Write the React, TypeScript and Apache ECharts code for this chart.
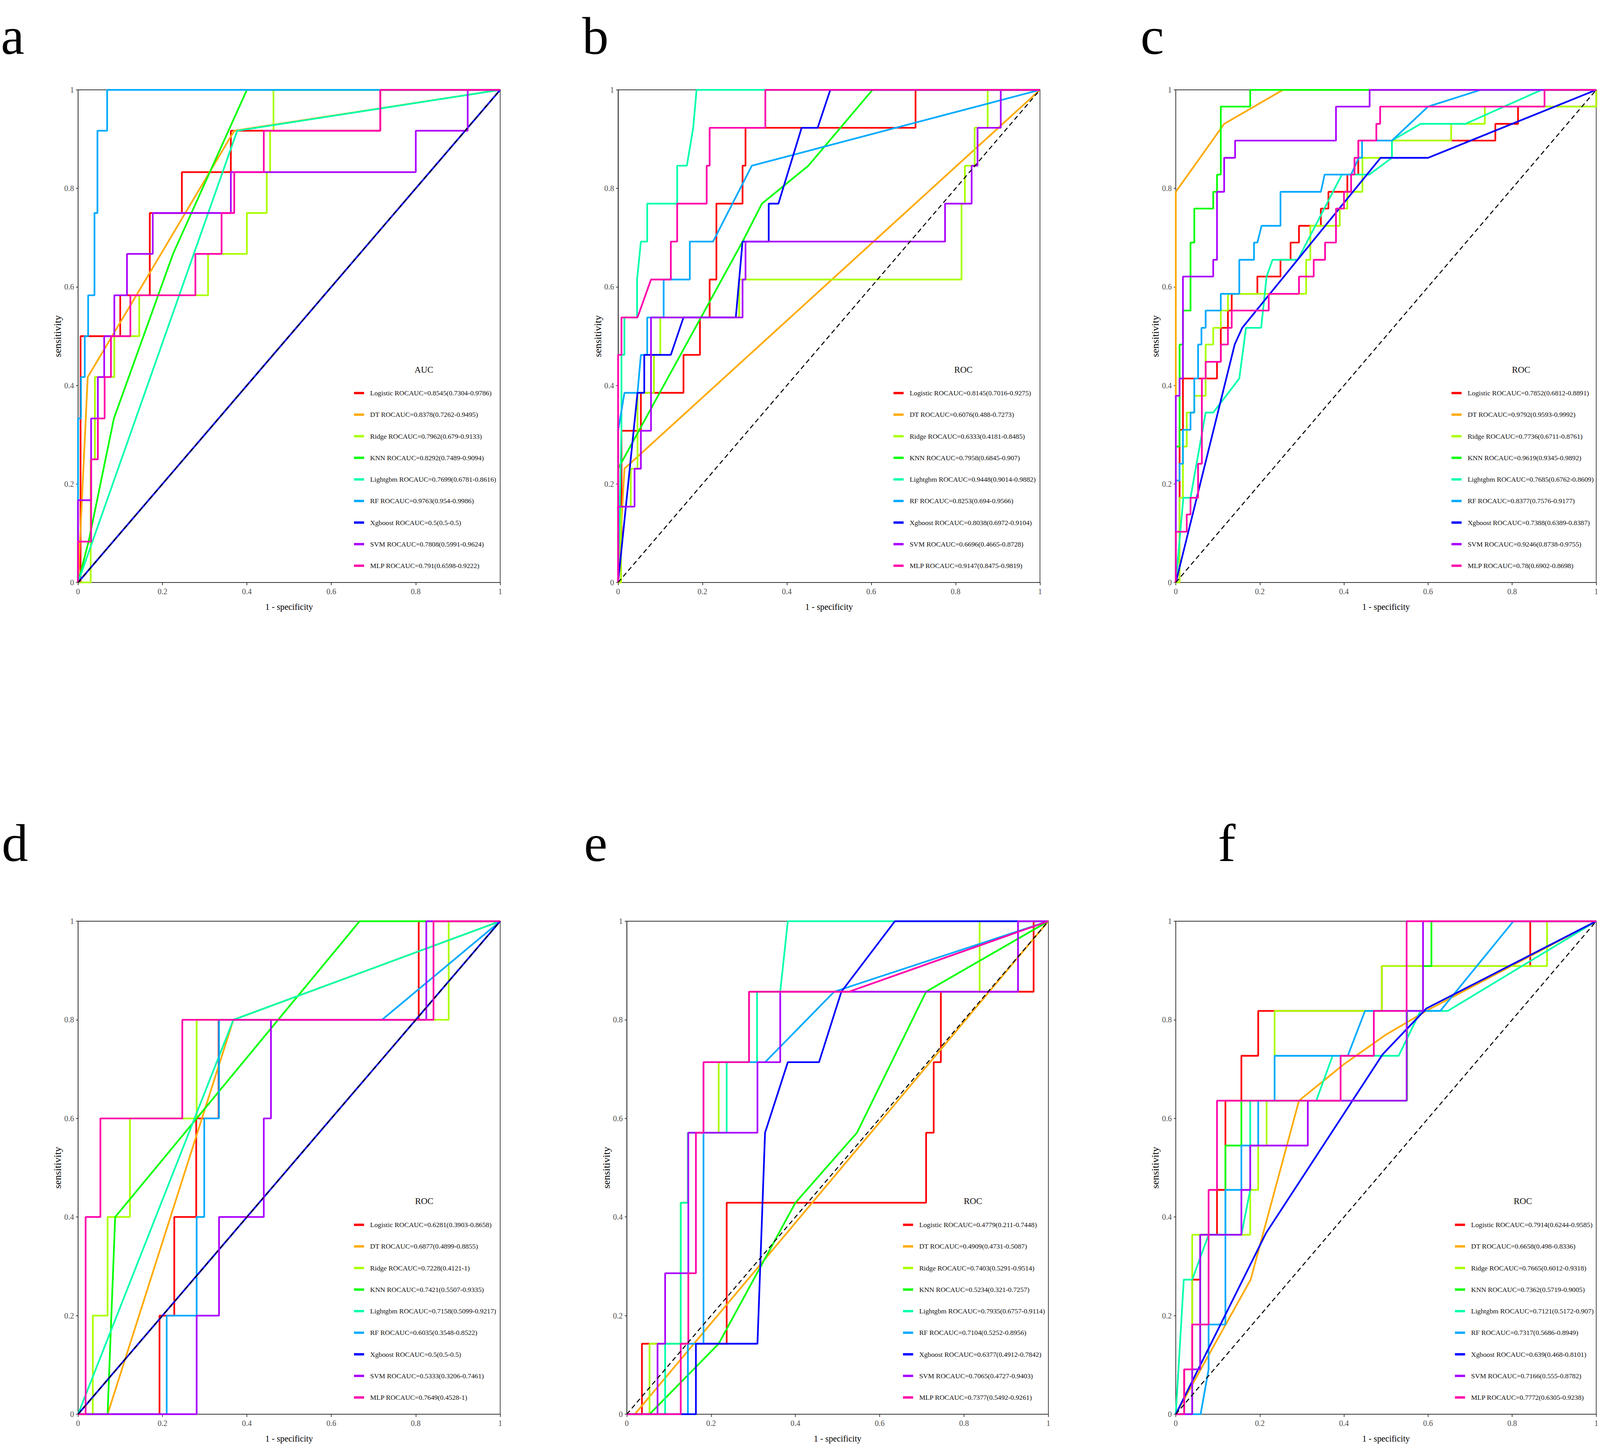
import { useEffect, useRef } from 'react'
import * as echarts from 'echarts'

const models = ['Logistic', 'DT', 'Ridge', 'KNN', 'Lightgbm', 'RF', 'Xgboost', 'SVM', 'MLP']
// R rainbow(9)
const palette = ['#FF0000', '#FFAA00', '#AAFF00', '#00FF00', '#00FFAA', '#00AAFF', '#0000FF', '#AA00FF', '#FF00AA']
const letters = ['a', 'b', 'c', 'd', 'e', 'f']
const legendTitles = ['AUC', 'ROC', 'ROC', 'ROC', 'ROC', 'ROC']

const aucA = ['0.8545(0.7304-0.9786)', '0.8378(0.7262-0.9495)', '0.7962(0.679-0.9133)', '0.8292(0.7489-0.9094)', '0.7699(0.6781-0.8616)', '0.9763(0.954-0.9986)', '0.5(0.5-0.5)', '0.7808(0.5991-0.9624)', '0.791(0.6598-0.9222)']
const aucB = ['0.8145(0.7016-0.9275)', '0.6076(0.488-0.7273)', '0.6333(0.4181-0.8485)', '0.7958(0.6845-0.907)', '0.9448(0.9014-0.9882)', '0.8253(0.694-0.9566)', '0.8038(0.6972-0.9104)', '0.6696(0.4665-0.8728)', '0.9147(0.8475-0.9819)']
const aucC = ['0.7852(0.6812-0.8891)', '0.9792(0.9593-0.9992)', '0.7736(0.6711-0.8761)', '0.9619(0.9345-0.9892)', '0.7685(0.6762-0.8609)', '0.8377(0.7576-0.9177)', '0.7388(0.6389-0.8387)', '0.9246(0.8738-0.9755)', '0.78(0.6902-0.8698)']
const aucD = ['0.6281(0.3903-0.8658)', '0.6877(0.4899-0.8855)', '0.7228(0.4121-1)', '0.7421(0.5507-0.9335)', '0.7158(0.5099-0.9217)', '0.6035(0.3548-0.8522)', '0.5(0.5-0.5)', '0.5333(0.3206-0.7461)', '0.7649(0.4528-1)']
const aucE = ['0.4779(0.211-0.7448)', '0.4909(0.4731-0.5087)', '0.7403(0.5291-0.9514)', '0.5234(0.321-0.7257)', '0.7935(0.6757-0.9114)', '0.7104(0.5252-0.8956)', '0.6377(0.4912-0.7842)', '0.7065(0.4727-0.9403)', '0.7377(0.5492-0.9261)']
const aucF = ['0.7914(0.6244-0.9585)', '0.6658(0.498-0.8336)', '0.7665(0.6012-0.9318)', '0.7362(0.5719-0.9005)', '0.7121(0.5172-0.907)', '0.7317(0.5686-0.8949)', '0.639(0.468-0.8101)', '0.7166(0.555-0.8782)', '0.7772(0.6305-0.9238)']

// [1 - specificity, sensitivity], one list per model in the order of `models`
const curvesA = [
  [[0, 0], [0.006, 0], [0.006, 0.5], [0.1, 0.5], [0.1, 0.583], [0.17, 0.583], [0.17, 0.75], [0.246, 0.75], [0.246, 0.833], [0.362, 0.833], [0.362, 0.917], [0.716, 0.917], [0.716, 1], [1, 1]],
  [[0, 0], [0.023, 0.417], [0.37, 0.917], [1, 1]],
  [[0, 0], [0.03, 0], [0.03, 0.25], [0.04, 0.25], [0.04, 0.417], [0.086, 0.417], [0.086, 0.5], [0.145, 0.5], [0.145, 0.583], [0.308, 0.583], [0.308, 0.667], [0.4, 0.667], [0.4, 0.75], [0.447, 0.75], [0.447, 0.833], [0.455, 0.833], [0.455, 0.917], [0.463, 0.917], [0.463, 1], [1, 1]],
  [[0, 0], [0.025, 0.083], [0.085, 0.333], [0.225, 0.667], [0.4, 1], [1, 1]],
  [[0, 0], [0.377, 0.917], [1, 1]],
  [[0, 0], [0, 0.333], [0.007, 0.333], [0.007, 0.417], [0.016, 0.417], [0.016, 0.5], [0.024, 0.5], [0.024, 0.583], [0.039, 0.583], [0.039, 0.75], [0.046, 0.75], [0.046, 0.917], [0.069, 0.917], [0.069, 1], [1, 1]],
  [[0, 0], [1, 1]],
  [[0, 0], [0, 0.167], [0.031, 0.167], [0.031, 0.333], [0.047, 0.333], [0.047, 0.417], [0.062, 0.417], [0.062, 0.5], [0.086, 0.5], [0.086, 0.583], [0.116, 0.583], [0.116, 0.667], [0.177, 0.667], [0.177, 0.75], [0.362, 0.75], [0.362, 0.833], [0.8, 0.833], [0.8, 0.917], [0.923, 0.917], [0.923, 1], [1, 1]],
  [[0, 0], [0, 0.083], [0.031, 0.083], [0.031, 0.25], [0.047, 0.25], [0.047, 0.333], [0.063, 0.333], [0.063, 0.417], [0.078, 0.417], [0.078, 0.5], [0.124, 0.5], [0.124, 0.583], [0.278, 0.583], [0.278, 0.667], [0.34, 0.667], [0.34, 0.75], [0.37, 0.75], [0.37, 0.833], [0.44, 0.833], [0.44, 0.917], [0.716, 0.917], [0.716, 1], [1, 1]],
]

const curvesB = [
  [[0, 0], [0, 0.077], [0.008, 0.077], [0.008, 0.308], [0.054, 0.308], [0.054, 0.385], [0.155, 0.385], [0.155, 0.462], [0.194, 0.462], [0.194, 0.538], [0.217, 0.538], [0.217, 0.615], [0.233, 0.615], [0.233, 0.769], [0.295, 0.769], [0.295, 0.846], [0.302, 0.846], [0.302, 0.923], [0.705, 0.923], [0.705, 1], [1, 1]],
  [[0, 0], [0.015, 0.231], [1, 1]],
  [[0, 0], [0.007, 0], [0.007, 0.154], [0.03, 0.154], [0.03, 0.231], [0.046, 0.231], [0.046, 0.385], [0.085, 0.385], [0.085, 0.462], [0.1, 0.462], [0.1, 0.538], [0.287, 0.538], [0.287, 0.615], [0.814, 0.615], [0.814, 0.769], [0.822, 0.769], [0.822, 0.846], [0.845, 0.846], [0.845, 0.923], [0.876, 0.923], [0.876, 1], [1, 1]],
  [[0, 0], [0, 0.231], [0.295, 0.692], [0.341, 0.769], [0.451, 0.846], [0.603, 1], [1, 1]],
  [[0, 0], [0.008, 0.308], [0.008, 0.462], [0.015, 0.462], [0.015, 0.538], [0.045, 0.538], [0.045, 0.615], [0.054, 0.692], [0.069, 0.692], [0.069, 0.769], [0.14, 0.769], [0.14, 0.846], [0.163, 0.846], [0.178, 0.923], [0.186, 1], [1, 1]],
  [[0, 0], [0, 0.308], [0.015, 0.385], [0.046, 0.385], [0.054, 0.462], [0.069, 0.462], [0.069, 0.538], [0.108, 0.538], [0.108, 0.615], [0.17, 0.615], [0.17, 0.692], [0.225, 0.692], [0.317, 0.846], [1, 1]],
  [[0, 0], [0.046, 0.385], [0.062, 0.385], [0.062, 0.462], [0.125, 0.462], [0.155, 0.538], [0.279, 0.538], [0.295, 0.692], [0.357, 0.692], [0.357, 0.769], [0.38, 0.769], [0.435, 0.923], [0.473, 0.923], [0.503, 1], [1, 1]],
  [[0, 0], [0, 0.154], [0.039, 0.154], [0.039, 0.231], [0.054, 0.231], [0.054, 0.308], [0.078, 0.308], [0.078, 0.538], [0.295, 0.538], [0.295, 0.615], [0.302, 0.615], [0.302, 0.692], [0.775, 0.692], [0.775, 0.769], [0.838, 0.769], [0.838, 0.846], [0.852, 0.846], [0.852, 0.923], [0.907, 0.923], [0.907, 1], [1, 1]],
  [[0, 0], [0, 0.462], [0.008, 0.462], [0.008, 0.538], [0.046, 0.538], [0.078, 0.615], [0.125, 0.615], [0.125, 0.692], [0.14, 0.692], [0.14, 0.769], [0.21, 0.769], [0.21, 0.846], [0.217, 0.846], [0.217, 0.923], [0.349, 0.923], [0.349, 1], [1, 1]],
]

const curvesC = [
  [[0, 0], [0.009, 0], [0.009, 0.31], [0.017, 0.31], [0.017, 0.414], [0.098, 0.414], [0.098, 0.448], [0.107, 0.448], [0.107, 0.517], [0.124, 0.517], [0.124, 0.552], [0.133, 0.552], [0.133, 0.586], [0.194, 0.586], [0.194, 0.621], [0.249, 0.621], [0.249, 0.655], [0.273, 0.655], [0.273, 0.69], [0.293, 0.69], [0.293, 0.724], [0.345, 0.724], [0.345, 0.759], [0.363, 0.759], [0.363, 0.793], [0.408, 0.793], [0.408, 0.828], [0.434, 0.828], [0.434, 0.897], [0.76, 0.897], [0.76, 0.931], [0.814, 0.931], [0.814, 0.966], [1, 0.966], [1, 1]],
  [[0, 0], [0, 0.793], [0.115, 0.931], [0.255, 1], [1, 1]],
  [[0, 0], [0.009, 0], [0.009, 0.172], [0.017, 0.172], [0.017, 0.276], [0.026, 0.276], [0.026, 0.345], [0.044, 0.345], [0.044, 0.379], [0.071, 0.379], [0.071, 0.483], [0.089, 0.483], [0.089, 0.517], [0.107, 0.517], [0.107, 0.552], [0.124, 0.552], [0.124, 0.586], [0.31, 0.586], [0.31, 0.655], [0.32, 0.655], [0.32, 0.724], [0.39, 0.724], [0.39, 0.759], [0.408, 0.759], [0.408, 0.793], [0.444, 0.793], [0.444, 0.862], [0.514, 0.862], [0.514, 0.897], [0.655, 0.897], [0.655, 0.931], [0.735, 0.931], [0.735, 0.966], [1, 0.966], [1, 1]],
  [[0, 0], [0, 0.276], [0.009, 0.276], [0.009, 0.483], [0.017, 0.483], [0.017, 0.552], [0.035, 0.552], [0.035, 0.69], [0.044, 0.69], [0.044, 0.759], [0.089, 0.759], [0.089, 0.793], [0.098, 0.793], [0.098, 0.828], [0.107, 0.828], [0.107, 0.966], [0.177, 0.966], [0.177, 1], [1, 1]],
  [[0, 0], [0.018, 0.172], [0.035, 0.172], [0.071, 0.345], [0.089, 0.345], [0.151, 0.414], [0.167, 0.517], [0.203, 0.517], [0.216, 0.621], [0.23, 0.655], [0.29, 0.655], [0.395, 0.828], [0.46, 0.828], [0.514, 0.862], [0.514, 0.897], [0.582, 0.931], [0.689, 0.931], [0.87, 1], [1, 1]],
  [[0, 0], [0, 0.207], [0.009, 0.207], [0.009, 0.241], [0.017, 0.241], [0.017, 0.31], [0.035, 0.31], [0.035, 0.345], [0.044, 0.345], [0.044, 0.414], [0.053, 0.414], [0.053, 0.483], [0.061, 0.483], [0.061, 0.517], [0.071, 0.517], [0.071, 0.552], [0.107, 0.552], [0.107, 0.586], [0.151, 0.586], [0.151, 0.655], [0.186, 0.655], [0.186, 0.69], [0.194, 0.69], [0.204, 0.724], [0.249, 0.724], [0.249, 0.793], [0.345, 0.793], [0.354, 0.828], [0.417, 0.828], [0.435, 0.862], [0.443, 0.862], [0.443, 0.897], [0.514, 0.897], [0.6, 0.966], [0.725, 1], [1, 1]],
  [[0, 0], [0.14, 0.483], [0.158, 0.517], [0.487, 0.862], [0.6, 0.862], [1, 1]],
  [[0, 0], [0, 0.379], [0.009, 0.379], [0.009, 0.414], [0.017, 0.414], [0.017, 0.621], [0.089, 0.621], [0.089, 0.655], [0.098, 0.655], [0.098, 0.793], [0.115, 0.793], [0.115, 0.862], [0.141, 0.862], [0.141, 0.897], [0.381, 0.897], [0.381, 0.966], [0.461, 0.966], [0.461, 1], [1, 1]],
  [[0, 0], [0, 0.103], [0.026, 0.103], [0.026, 0.138], [0.035, 0.138], [0.035, 0.172], [0.053, 0.172], [0.053, 0.241], [0.062, 0.241], [0.062, 0.414], [0.071, 0.414], [0.071, 0.448], [0.107, 0.448], [0.107, 0.483], [0.124, 0.483], [0.124, 0.517], [0.133, 0.517], [0.133, 0.552], [0.221, 0.552], [0.221, 0.586], [0.293, 0.586], [0.293, 0.621], [0.328, 0.621], [0.328, 0.655], [0.355, 0.655], [0.355, 0.69], [0.381, 0.69], [0.381, 0.759], [0.4, 0.759], [0.4, 0.793], [0.417, 0.793], [0.417, 0.828], [0.425, 0.828], [0.425, 0.862], [0.434, 0.862], [0.434, 0.897], [0.477, 0.897], [0.477, 0.931], [0.486, 0.931], [0.486, 0.966], [0.877, 0.966], [0.877, 1], [1, 1]],
]

const curvesD = [
  [[0, 0], [0.193, 0], [0.193, 0.2], [0.228, 0.2], [0.228, 0.4], [0.28, 0.4], [0.28, 0.6], [0.333, 0.6], [0.333, 0.8], [0.807, 0.8], [0.807, 1], [1, 1]],
  [[0, 0], [0.07, 0], [0.368, 0.8], [1, 1]],
  [[0, 0], [0.035, 0], [0.035, 0.2], [0.07, 0.2], [0.07, 0.4], [0.123, 0.4], [0.123, 0.6], [0.281, 0.6], [0.281, 0.8], [0.878, 0.8], [0.878, 1], [1, 1]],
  [[0, 0], [0.07, 0], [0.088, 0.4], [0.667, 1], [1, 1]],
  [[0, 0], [0.368, 0.8], [1, 1]],
  [[0, 0], [0.21, 0], [0.21, 0.2], [0.281, 0.2], [0.281, 0.4], [0.299, 0.4], [0.299, 0.6], [0.334, 0.6], [0.334, 0.8], [0.72, 0.8], [1, 1]],
  [[0, 0], [1, 1]],
  [[0, 0], [0.281, 0], [0.281, 0.2], [0.334, 0.2], [0.334, 0.4], [0.44, 0.4], [0.44, 0.6], [0.457, 0.6], [0.457, 0.8], [0.825, 0.8], [0.825, 1], [1, 1]],
  [[0, 0], [0.018, 0], [0.018, 0.4], [0.053, 0.4], [0.053, 0.6], [0.247, 0.6], [0.247, 0.8], [0.842, 0.8], [0.842, 1], [1, 1]],
]

const curvesE = [
  [[0, 0], [0.036, 0], [0.036, 0.143], [0.237, 0.143], [0.237, 0.429], [0.71, 0.429], [0.71, 0.571], [0.728, 0.571], [0.728, 0.714], [0.745, 0.714], [0.745, 0.857], [0.965, 0.857], [0.965, 1], [1, 1]],
  [[0, 0], [0.019, 0], [1, 1]],
  [[0, 0], [0.054, 0], [0.054, 0.143], [0.128, 0.143], [0.128, 0.429], [0.145, 0.429], [0.145, 0.571], [0.218, 0.571], [0.218, 0.714], [0.29, 0.714], [0.29, 0.857], [0.837, 0.857], [0.837, 1], [1, 1]],
  [[0, 0], [0.054, 0], [0.218, 0.143], [0.4, 0.429], [0.546, 0.571], [0.71, 0.857], [1, 1]],
  [[0, 0], [0.091, 0], [0.091, 0.143], [0.128, 0.143], [0.128, 0.429], [0.145, 0.429], [0.145, 0.571], [0.237, 0.571], [0.237, 0.714], [0.309, 0.714], [0.309, 0.857], [0.364, 0.857], [0.382, 1], [1, 1]],
  [[0, 0], [0.145, 0], [0.145, 0.143], [0.182, 0.143], [0.182, 0.714], [0.328, 0.714], [0.492, 0.857], [1, 1]],
  [[0, 0], [0.164, 0], [0.164, 0.143], [0.31, 0.143], [0.328, 0.571], [0.382, 0.714], [0.456, 0.714], [0.509, 0.857], [0.636, 1], [1, 1]],
  [[0, 0], [0.073, 0], [0.073, 0.143], [0.091, 0.143], [0.091, 0.286], [0.146, 0.286], [0.146, 0.571], [0.31, 0.571], [0.31, 0.714], [0.364, 0.714], [0.364, 0.857], [0.928, 0.857], [0.928, 1], [1, 1]],
  [[0, 0], [0.128, 0], [0.128, 0.143], [0.146, 0.143], [0.146, 0.286], [0.164, 0.286], [0.164, 0.571], [0.182, 0.571], [0.182, 0.714], [0.29, 0.714], [0.29, 0.857], [0.527, 0.857], [1, 1]],
]

const curvesF = [
  [[0, 0], [0.02, 0], [0.02, 0.091], [0.039, 0.091], [0.039, 0.273], [0.058, 0.273], [0.058, 0.364], [0.098, 0.364], [0.098, 0.455], [0.118, 0.455], [0.118, 0.636], [0.156, 0.636], [0.156, 0.727], [0.196, 0.727], [0.196, 0.818], [0.49, 0.818], [0.49, 0.909], [0.843, 0.909], [0.843, 1], [1, 1]],
  [[0, 0], [0.178, 0.273], [0.293, 0.636], [0.4, 0.71], [0.5, 0.77], [0.6, 0.82], [0.8, 0.91], [1, 1]],
  [[0, 0], [0.039, 0], [0.039, 0.364], [0.177, 0.364], [0.177, 0.455], [0.196, 0.455], [0.196, 0.545], [0.216, 0.545], [0.216, 0.636], [0.235, 0.636], [0.235, 0.818], [0.49, 0.818], [0.49, 0.909], [0.883, 0.909], [0.883, 1], [1, 1]],
  [[0, 0], [0.039, 0], [0.039, 0.091], [0.058, 0.091], [0.058, 0.364], [0.118, 0.364], [0.118, 0.545], [0.156, 0.545], [0.156, 0.636], [0.55, 0.636], [0.55, 0.818], [0.588, 0.818], [0.588, 0.909], [0.608, 0.909], [0.608, 1], [1, 1]],
  [[0, 0], [0.019, 0.273], [0.039, 0.273], [0.078, 0.364], [0.156, 0.364], [0.177, 0.455], [0.177, 0.636], [0.334, 0.636], [0.373, 0.727], [0.53, 0.727], [0.582, 0.818], [0.647, 0.818], [1, 1]],
  [[0, 0], [0.059, 0], [0.078, 0.091], [0.078, 0.182], [0.118, 0.182], [0.118, 0.455], [0.156, 0.455], [0.156, 0.545], [0.196, 0.545], [0.196, 0.636], [0.235, 0.636], [0.235, 0.727], [0.409, 0.727], [0.45, 0.818], [0.629, 0.818], [0.803, 1], [1, 1]],
  [[0, 0], [0.215, 0.368], [0.492, 0.73], [0.596, 0.823], [1, 1]],
  [[0, 0], [0.039, 0], [0.039, 0.091], [0.058, 0.091], [0.058, 0.364], [0.156, 0.364], [0.156, 0.455], [0.177, 0.455], [0.177, 0.545], [0.314, 0.545], [0.314, 0.636], [0.549, 0.636], [0.549, 0.818], [0.588, 0.818], [0.588, 1], [1, 1]],
  [[0, 0], [0.02, 0], [0.02, 0.091], [0.039, 0.091], [0.039, 0.182], [0.078, 0.182], [0.078, 0.455], [0.098, 0.455], [0.098, 0.636], [0.392, 0.636], [0.392, 0.727], [0.471, 0.727], [0.471, 0.818], [0.549, 0.818], [0.549, 1], [1, 1]],
]

const aucs = [aucA, aucB, aucC, aucD, aucE, aucF]
const curves = [curvesA, curvesB, curvesC, curvesD, curvesE, curvesF]

// layout measured on the 5537 x 3709 reference: [left, top, width, height]
const BASE_W = 5537
const BASE_H = 3709
const gridBoxes = [
  [270, 230, 1461, 1261], [2139, 230, 1460, 1261], [4069, 230, 1455, 1261],
  [270, 2358, 1461, 1262], [2169, 2358, 1459, 1262], [4069, 2358, 1455, 1262],
]
const legendFirstItem = [[1225, 1006], [3092, 1006], [5023, 1006], [1225, 3135], [3125, 3135], [5035, 3135]]
const legendTitleSpots = [[1467, 946], [3334, 946], [5264, 946], [1468, 3074], [3367, 3074], [5270, 3074]]
const letterSpots = [[3, 138], [2015, 138], [3947, 138], [6, 2204], [2021, 2204], [4215, 2204]]

const serif = '"Liberation Serif", "Times New Roman", serif'

export default function App() {
  const chartRef = useRef<HTMLDivElement>(null)

  useEffect(() => {
    const el = chartRef.current
    if (!el) return
    document.documentElement.style.overflow = 'hidden'
    document.body.style.overflow = 'hidden'
    const chart = echarts.init(el, null, { renderer: 'svg' })
    // fit the reference layout to whatever page size we get
    const sx = el.clientWidth / BASE_W
    const sy = el.clientHeight / BASE_H
    const X = (v: number) => v * sx
    const Y = (v: number) => v * sy
    const S = (v: number) => v * Math.min(sx, sy) // the reference type is condensed, keep its widths

    const legendFont = S(24)
    const tickFont = S(27)
    const xNameFont = S(30)
    const yNameFont = (S(30) + Y(30)) / 2

    const grid: any[] = []
    const xAxis: any[] = []
    const yAxis: any[] = []
    const legend: any[] = []
    const series: any[] = []
    const graphic: any[] = []

    const axisCommon = (i: number) => ({
      type: 'value',
      gridIndex: i,
      min: 0,
      max: 1,
      interval: 0.2,
      nameLocation: 'middle',
      axisLine: { show: true, onZero: false, lineStyle: { color: '#333', width: 1.8 } },
      splitLine: { show: false },
    })

    aucs.forEach((auc, i) => {
      const [l, t, w, h] = gridBoxes[i]
      grid.push({ left: X(l), top: Y(t), width: X(w), height: Y(h), show: true, borderColor: '#333', borderWidth: 1.8, backgroundColor: 'transparent' })
      xAxis.push({
        ...axisCommon(i),
        name: '1 - specificity',
        nameGap: Y(63) - xNameFont / 2,
        nameTextStyle: { color: '#000', fontSize: xNameFont, fontFamily: serif },
        axisTick: { show: true, length: Y(7), lineStyle: { color: '#333', width: 1.8 } },
        axisLabel: { color: '#4D4D4D', fontSize: tickFont, fontFamily: serif, margin: Y(13) },
      })
      yAxis.push({
        ...axisCommon(i),
        name: 'sensitivity',
        nameGap: X(65) - yNameFont / 2,
        nameTextStyle: { color: '#000', fontSize: yNameFont, fontFamily: serif },
        axisTick: { show: true, length: X(7), lineStyle: { color: '#333', width: 1.8 } },
        axisLabel: { color: '#4D4D4D', fontSize: tickFont, fontFamily: serif, margin: X(14) },
      })

      const names = models.map((m, k) => `${m} ROCAUC=${auc[k]}`)
      legend.push({
        data: names,
        orient: 'vertical',
        left: X(legendFirstItem[i][0]),
        top: Y(legendFirstItem[i][1]) - legendFont / 2,
        padding: 0,
        icon: 'rect',
        itemWidth: X(35),
        itemHeight: Y(6),
        itemGap: Y(55) - legendFont,
        selectedMode: false,
        textStyle: { color: '#111', fontSize: legendFont, lineHeight: legendFont, fontFamily: serif, padding: [0, 0, 0, Math.max(0, X(21) - 5)] },
      })

      curves[i].forEach((pts, k) => {
        series.push({
          type: 'line',
          name: names[k],
          xAxisIndex: i,
          yAxisIndex: i,
          data: pts,
          symbol: 'none',
          showSymbol: false,
          silent: true,
          lineStyle: { color: palette[k], width: (X(5) + Y(5)) / 2 },
          itemStyle: { color: palette[k] },
        })
      })
      series.push({
        type: 'line',
        name: 'reference',
        xAxisIndex: i,
        yAxisIndex: i,
        data: [[0, 0], [1, 1]],
        symbol: 'none',
        silent: true,
        z: 3,
        lineStyle: { color: '#000', width: 2.6, type: [12, 8] },
      })

      const letterFont = Math.max(S(140), Y(135))
      graphic.push({
        type: 'text',
        x: X(letterSpots[i][0]),
        y: Y(letterSpots[i][1]) - letterFont * 0.34,
        style: { text: letters[i], fill: '#000', fontSize: letterFont, fontFamily: serif, align: 'left', verticalAlign: 'middle' },
      })
      graphic.push({
        type: 'text',
        x: X(legendTitleSpots[i][0]),
        y: Y(legendTitleSpots[i][1]),
        style: { text: legendTitles[i], fill: '#111', fontSize: S(31), fontFamily: serif, align: 'center', verticalAlign: 'middle' },
      })
    })

    chart.setOption({ animation: false, backgroundColor: '#fff', grid, xAxis, yAxis, legend, series, graphic })

    return () => {
      chart.dispose()
    }
  }, [])

  return <div ref={chartRef} style={{ position: 'absolute', left: 0, top: 0, width: '100vw', height: '100vh' }} />
}
